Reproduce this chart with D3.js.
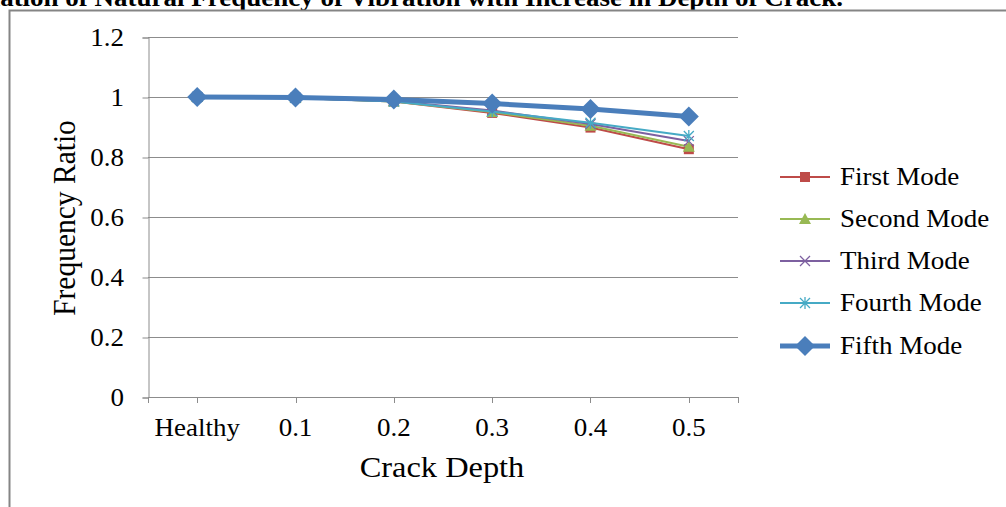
<!DOCTYPE html>
<html>
<head>
<meta charset="utf-8">
<script src="https://cdn.jsdelivr.net/npm/d3@7"></script>
<style>
  html, body { margin: 0; padding: 0; background: #fff; }
  svg { display: block; }
  text { font-family: "Liberation Serif", "Times New Roman", serif; fill: #000; }
</style>
</head>
<body>
<svg id="chart" width="1006" height="507"></svg>
<script>
// Crack depth categories and frequency ratios for each vibration mode
const categories = ["Healthy", "0.1", "0.2", "0.3", "0.4", "0.5"];
const firstMode  = [1.000, 0.997, 0.985, 0.947, 0.898, 0.826];
const secondMode = [1.000, 0.997, 0.985, 0.950, 0.904, 0.834];
const thirdMode  = [1.000, 0.997, 0.987, 0.955, 0.910, 0.853];
const fourthMode = [1.000, 0.997, 0.985, 0.952, 0.914, 0.870];
const fifthMode  = [1.000, 0.998, 0.992, 0.978, 0.960, 0.935];
const yTicks = [0, 0.2, 0.4, 0.6, 0.8, 1, 1.2];
const seriesNames = ["First Mode", "Second Mode", "Third Mode", "Fourth Mode", "Fifth Mode"];

const series = [
  { name: seriesNames[0], values: firstMode,  color: "#BE4B48", marker: "square",   width: 2 },
  { name: seriesNames[1], values: secondMode, color: "#98B954", marker: "triangle", width: 2 },
  { name: seriesNames[2], values: thirdMode,  color: "#7D60A0", marker: "cross",    width: 2 },
  { name: seriesNames[3], values: fourthMode, color: "#46AAC5", marker: "star",     width: 2 },
  { name: seriesNames[4], values: fifthMode,  color: "#4A7EBB", marker: "diamond",  width: 5 }
];

const svg = d3.select("#chart");
const plotLeft = 148, plotRight = 738, plotTop = 37, plotBottom = 397;
const SX = 1.08; // slightly widened lettering

const x = d3.scaleBand().domain(categories).range([plotLeft, plotRight]).padding(0);
const y = d3.scaleLinear().domain([0, 1.2]).range([plotBottom, plotTop]);
const cx = d => x(d) + x.bandwidth() / 2;

// Text helper: places a label at (px, py) with widened glyphs
function label(parent, px, py, str, size, anchor, extra) {
  const t = parent.append("text")
    .attr("transform", `translate(${px},${py}) scale(${SX},1)`)
    .attr("text-anchor", anchor || "start")
    .style("font-size", size + "px")
    .text(str);
  if (extra) extra(t);
  return t;
}

// Title (running off the top-left of the page)
label(svg, 843, 6, "Variation of Natural Frequency of Vibration with Increase in Depth of Crack.", 25, "end",
  t => t.style("font-weight", "bold"));

// Chart frame
svg.append("rect")
  .attr("x", 9.5).attr("y", 10.5).attr("width", 1100).attr("height", 600)
  .attr("fill", "none").attr("stroke", "#858585").attr("stroke-width", 2);

// Gridlines
svg.append("g").selectAll("line").data(yTicks.filter(t => t > 0)).join("line")
  .attr("x1", plotLeft).attr("x2", plotRight)
  .attr("y1", d => Math.round(y(d)) + 0.5).attr("y2", d => Math.round(y(d)) + 0.5)
  .attr("stroke", "#8c8c8c").attr("stroke-width", 1);

// Y axis
const yAxis = d3.axisLeft(y).tickValues(yTicks).tickSize(6).tickFormat("");
const yg = svg.append("g").attr("transform", `translate(${plotLeft + 0.5},0.5)`).call(yAxis);
yg.select(".domain").attr("stroke", "#8c8c8c");
yg.selectAll(".tick line").attr("stroke", "#8c8c8c");
const yLab = svg.append("g");
yTicks.forEach(v => label(yLab, 124, y(v) + 8.5, d3.format("")(+v.toFixed(1)), 25, "end"));

// X axis: line with ticks at the ends and under each category
const xg = svg.append("g");
xg.append("line").attr("x1", plotLeft).attr("x2", plotRight)
  .attr("y1", plotBottom + 0.5).attr("y2", plotBottom + 0.5).attr("stroke", "#8c8c8c");
const xTickPos = [plotLeft, ...categories.map(cx), plotRight];
xg.selectAll("line.tk").data(xTickPos).join("line").attr("class", "tk")
  .attr("x1", d => Math.round(d) + 0.5).attr("x2", d => Math.round(d) + 0.5)
  .attr("y1", plotBottom).attr("y2", plotBottom + 6).attr("stroke", "#8c8c8c");
categories.forEach(c => label(xg, cx(c), 436, c, 25, "middle"));

// Axis titles
svg.append("text")
  .attr("transform", `translate(75,${(plotTop + plotBottom) / 2 + 1}) rotate(-90) scale(1,${SX})`)
  .attr("text-anchor", "middle").style("font-size", "29.5px")
  .text("Frequency Ratio");
label(svg, 442, 477, "Crack Depth", 30, "middle");

// Marker drawing
function drawMarker(g, type, color, px, py) {
  if (type === "square") {
    g.append("rect").attr("x", px - 5).attr("y", py - 5).attr("width", 10).attr("height", 10).attr("fill", color);
  } else if (type === "triangle") {
    g.append("path").attr("d", `M${px},${py - 6}L${px + 6},${py + 5}L${px - 6},${py + 5}Z`).attr("fill", color);
  } else if (type === "cross") {
    g.append("path").attr("d", `M${px - 5},${py - 5}L${px + 5},${py + 5}M${px - 5},${py + 5}L${px + 5},${py - 5}`)
      .attr("stroke", color).attr("stroke-width", 1.3).attr("fill", "none");
  } else if (type === "star") {
    g.append("path").attr("d", `M${px - 5},${py - 5}L${px + 5},${py + 5}M${px - 5},${py + 5}L${px + 5},${py - 5}M${px},${py - 6}L${px},${py + 6}`)
      .attr("stroke", color).attr("stroke-width", 1.3).attr("fill", "none");
  } else if (type === "diamond") {
    g.append("path").attr("d", `M${px},${py - 10}L${px + 10},${py}L${px},${py + 10}L${px - 10},${py}Z`).attr("fill", color);
  }
}

// Series lines and markers
const line = d3.line().x((d, i) => cx(categories[i])).y(d => y(d));
series.forEach(s => {
  const g = svg.append("g");
  g.append("path").datum(s.values).attr("d", line)
    .attr("fill", "none").attr("stroke", s.color).attr("stroke-width", s.width)
    .attr("stroke-linejoin", "round");
  s.values.forEach((v, i) => drawMarker(g, s.marker, s.color, cx(categories[i]), y(v)));
});

// Legend
const legendY = [177, 219, 261, 303, 346];
series.forEach((s, i) => {
  const g = svg.append("g");
  const ly = legendY[i];
  g.append("line").attr("x1", 780).attr("x2", 830).attr("y1", ly).attr("y2", ly)
    .attr("stroke", s.color).attr("stroke-width", s.width);
  drawMarker(g, s.marker, s.color, 805, ly);
  label(g, 840, ly + 8, s.name, 25, "start");
});
</script>
</body>
</html>
